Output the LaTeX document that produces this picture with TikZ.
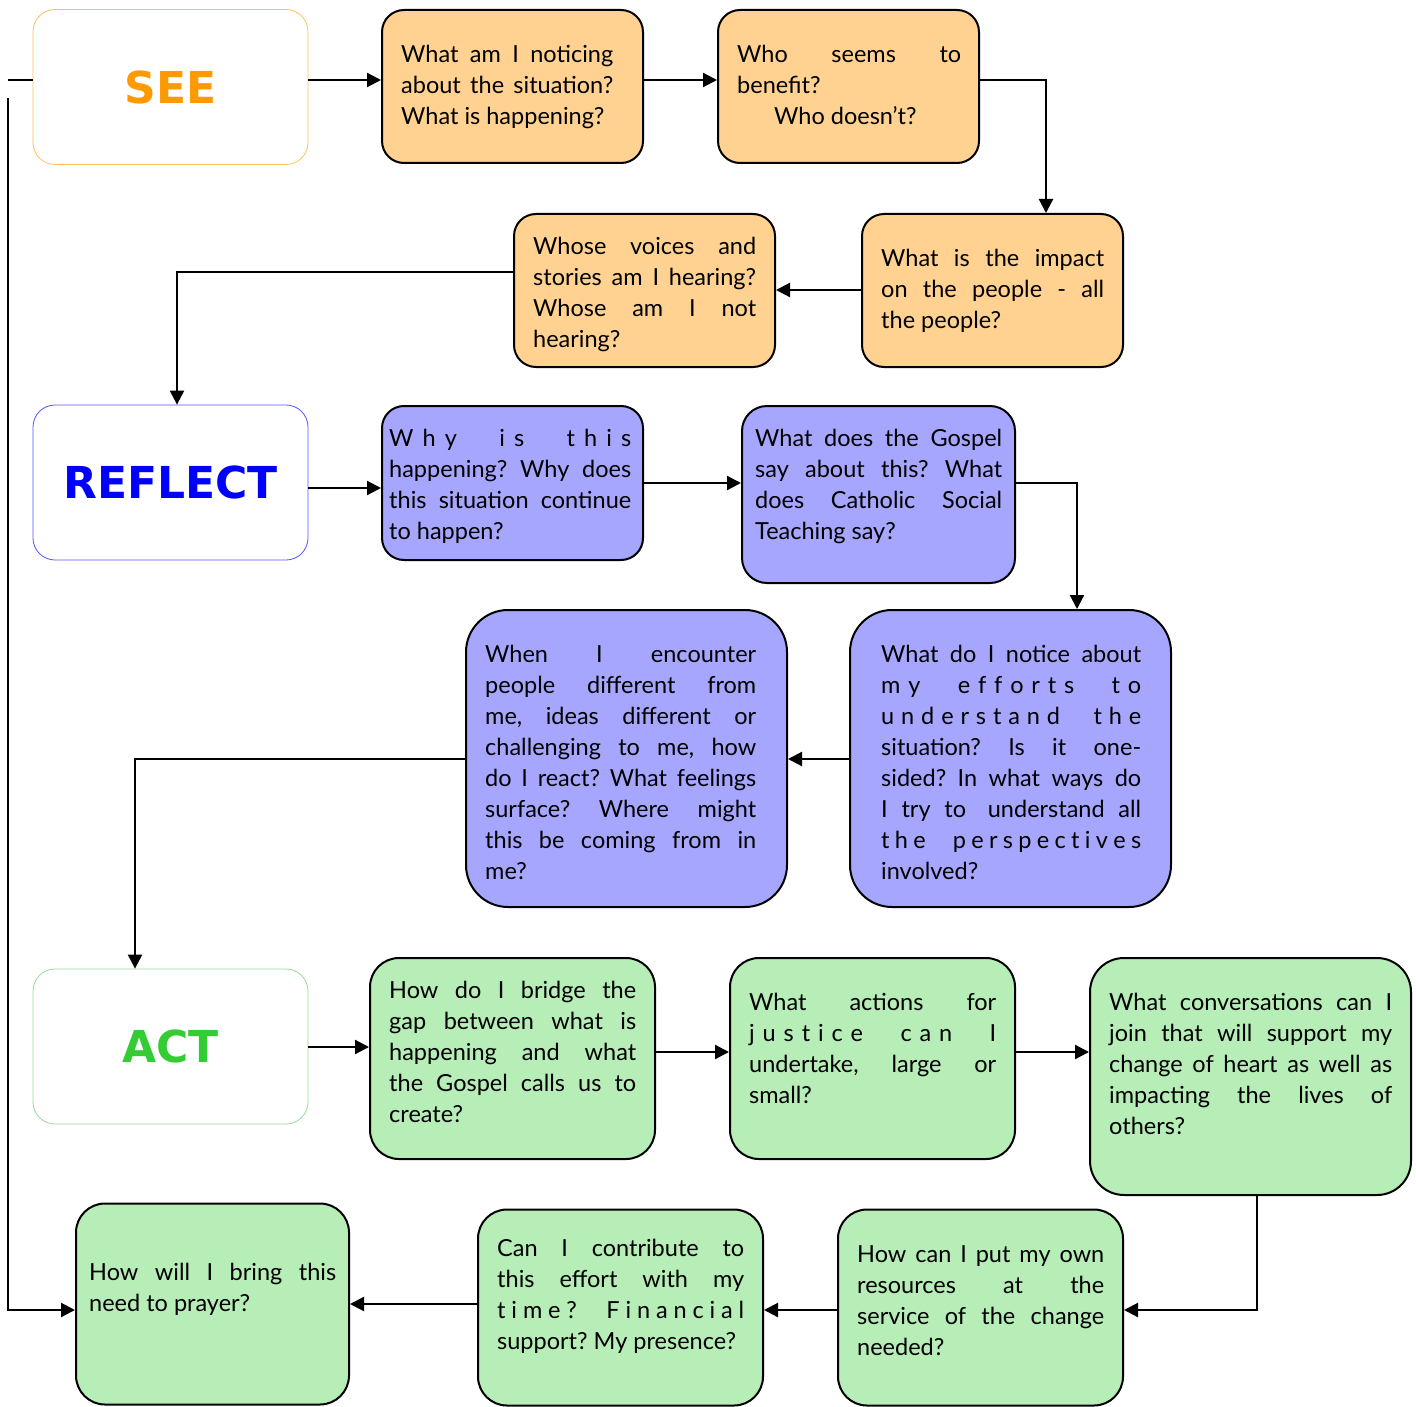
\documentclass[tikz,border=0pt]{standalone}
\usepackage{fontspec}
\setmainfont{Lato}
\newfontfamily\labelfont{DejaVu Sans}
\usetikzlibrary{arrows.meta}
\definecolor{seeText}{RGB}{255,153,0}
\definecolor{seeBorder}{RGB}{255,192,90}
\definecolor{seeFill}{RGB}{255,210,145}
\definecolor{refText}{RGB}{0,0,255}
\definecolor{refBorder}{RGB}{85,85,255}
\definecolor{refFill}{RGB}{166,166,255}
\definecolor{actText}{RGB}{51,204,51}
\definecolor{actBorder}{RGB}{150,220,150}
\definecolor{actFill}{RGB}{183,237,183}
\frenchspacing
% justified line, ragged last line, text block, letter gap, word gap
\newcommand\J[1]{\hbox to\hsize{\strut\frenchspacing\spaceskip=0.2em plus 1fil minus 0.15em\relax #1}}
\newcommand\E[1]{\hbox to\hsize{\strut #1\hfil}}
\newcommand\T[2]{\vtop{\hsize=#1\relax #2}}
\newcommand\g{\hskip 0pt plus 1fil\relax}
\newcommand\G{\hskip 0.25em plus 4fil\relax}
\begin{document}
\begin{tikzpicture}[x=1pt,y=-1pt,
  lbl/.style={draw, rounded corners=22pt, line width=0.8pt, fill=white,
    font=\labelfont\bfseries\fontsize{44}{50}\selectfont, minimum width=275pt, minimum height=155pt},
  qbox/.style={draw=black, line width=2pt},
  obox/.style={qbox, fill=seeFill, minimum width=261pt, minimum height=153pt, rounded corners=22pt},
  pbox/.style={qbox, fill=refFill},
  gbox/.style={qbox, fill=actFill},
  txt/.style={anchor=north west, inner sep=0pt, font=\fontsize{23.5}{31}\selectfont},
  line/.style={line width=2.2pt},
  arr/.style={line width=2.2pt, -{Triangle[length=14pt,width=14pt]}}]
\useasboundingbox (0,0) rectangle (1416,1407);

% SEE row
\node[lbl, draw=seeBorder, text=seeText] (see) at (170.5,87) {SEE};
\node[obox] (a1) at (512.5,86.5) {};
\node[obox] (a2) at (848.5,86.5) {};
\node[obox] (a3) at (992.5,290.5) {};
\node[obox] (a4) at (644.5,290.5) {};
\node[txt] (a1t) at (401,40.3) {\T{212pt}{\J{What am I noticing}\J{about the situation?}\E{What is happening?}}};
\node[txt] (a2t) at (737,40.3) {\T{224pt}{\J{Who seems to}\E{benefit?}\E{\hspace{37pt}Who doesn’t?}}};
\node[txt] (a3t) at (881,244.3) {\T{223pt}{\J{What is the impact}\J{on the people - all}\E{the people?}}};
\node[txt] (a4t) at (533,232.3) {\T{223pt}{\J{Whose voices and}\J{stories am I hearing?}\J{Whose am I not}\E{hearing?}}};

% REFLECT row
\node[lbl, draw=refBorder, text=refText] (ref) at (170.5,482.5) {REFLECT};
\node[pbox, minimum width=261pt, minimum height=154pt, rounded corners=22pt] (b1) at (512.5,483) {};
\node[pbox, minimum width=273pt, minimum height=177pt, rounded corners=25pt] (b2) at (878.5,494.5) {};
\node[pbox, minimum width=321pt, minimum height=297pt, rounded corners=42pt] (b3) at (1010.5,758.5) {};
\node[pbox, minimum width=321pt, minimum height=297pt, rounded corners=42pt] (b4) at (626.5,758.5) {};
\node[txt] (b1t) at (389,424.3) {\T{242pt}{\J{W\g h\g y\G i\g s\G t\g h\g i\g s}\J{happening? Why does}\J{this situation continue}\E{to happen?}}};
\node[txt] (b2t) at (755,424.3) {\T{247pt}{\J{What does the Gospel}\J{say about this? What}\J{does Catholic Social}\E{Teaching say?}}};
\node[txt] (b3t) at (881,640.3) {\T{260pt}{\J{What do I notice about}\J{m\g y\G e\g f\g f\g o\g r\g t\g s\G t\g o}\J{u\g n\g d\g e\g r\g s\g t\g a\g n\g d\G t\g h\g e}\J{situation? Is it one-}\J{sided? In what ways do}\J{I try to\hspace{8pt} understand all}\J{t\g h\g e\G p\g e\g r\g s\g p\g e\g c\g t\g i\g v\g e\g s}\E{involved?}}};
\node[txt] (b4t) at (485,640.3) {\T{271pt}{\J{When I encounter}\J{people different from}\J{me, ideas different or}\J{challenging to me, how}\J{do I react? What feelings}\J{surface? Where might}\J{this be coming from in}\E{me?}}};

% ACT rows
\node[lbl, draw=actBorder, text=actText] (act) at (170.5,1046.5) {ACT};
\node[gbox, minimum width=285pt, minimum height=201pt, rounded corners=29pt] (c1) at (512.5,1058.5) {};
\node[gbox, minimum width=285pt, minimum height=201pt, rounded corners=29pt] (c2) at (872.5,1058.5) {};
\node[gbox, minimum width=321pt, minimum height=237pt, rounded corners=34pt] (c3) at (1250.5,1076.5) {};
\node[gbox, minimum width=285pt, minimum height=196pt, rounded corners=29pt] (c4) at (980.5,1307.5) {};
\node[gbox, minimum width=285pt, minimum height=196pt, rounded corners=29pt] (c5) at (620.5,1307.5) {};
\node[gbox, minimum width=273pt, minimum height=201pt, rounded corners=29pt] (c6) at (212.5,1304) {};
\node[txt] (c1t) at (389,976.3) {\T{247pt}{\J{How do I bridge the}\J{gap between what is}\J{happening and what}\J{the Gospel calls us to}\E{create?}}};
\node[txt] (c2t) at (749,988.3) {\T{247pt}{\J{What actions for}\J{j\g u\g s\g t\g i\g c\g e\G c\g a\g n\G I}\J{undertake, large or}\E{small?}}};
\node[txt] (c3t) at (1109,988.3) {\T{283pt}{\J{What conversations can I}\J{join that will support my}\J{change of heart as well as}\J{impacting the lives of}\E{others?}}};
\node[txt] (c4t) at (857,1240.3) {\T{247pt}{\J{How can I put my own}\J{resources at the}\J{service of the change}\E{needed?}}};
\node[txt] (c5t) at (497,1234.3) {\T{247pt}{\J{Can I contribute to}\J{this effort with my}\J{t\g i\g m\g e\g ?\G F\g i\g n\g a\g n\g c\g i\g a\g l}\E{support? My presence?}}};
\node[txt] (c6t) at (89,1258.3) {\T{247pt}{\J{How will I bring this}\E{need to prayer?}}};

% connectors
\draw[arr] (see.east |- 0,80) -- (a1.west |- 0,80);
\draw[arr] (a1.east |- 0,80) -- (a2.west |- 0,80);
\draw[arr] (a2.east |- 0,80) -| (a3.north -| 1046,0);
\draw[arr] (a3.west |- 0,290) -- (a4.east |- 0,290);
\draw[arr] (a4.west |- 0,272) -| (ref.north -| 177,0);
\draw[arr] (ref.east |- 0,488) -- (b1.west |- 0,488);
\draw[arr] (b1.east |- 0,483) -- (b2.west |- 0,483);
\draw[arr] (b2.east |- 0,483) -| (b3.north -| 1077,0);
\draw[arr] (b3.west |- 0,759) -- (b4.east |- 0,759);
\draw[arr] (b4.west |- 0,759) -| (act.north -| 135,0);
\draw[arr] (act.east |- 0,1047) -- (c1.west |- 0,1047);
\draw[arr] (c1.east |- 0,1052) -- (c2.west |- 0,1052);
\draw[arr] (c2.east |- 0,1052) -- (c3.west |- 0,1052);
\draw[arr] (c3.south -| 1257,0) |- (c4.east |- 0,1310);
\draw[arr] (c4.west |- 0,1310) -- (c5.east |- 0,1310);
\draw[arr] (c5.west |- 0,1304) -- (c6.east |- 0,1304);
\coordinate (lt) at (8,80);
\coordinate (lb) at (8,98);
\draw[line] (see.west |- 0,80) -- (lt);
\draw[arr] (lb) |- (c6.west |- 0,1310);
\end{tikzpicture}
\end{document}
